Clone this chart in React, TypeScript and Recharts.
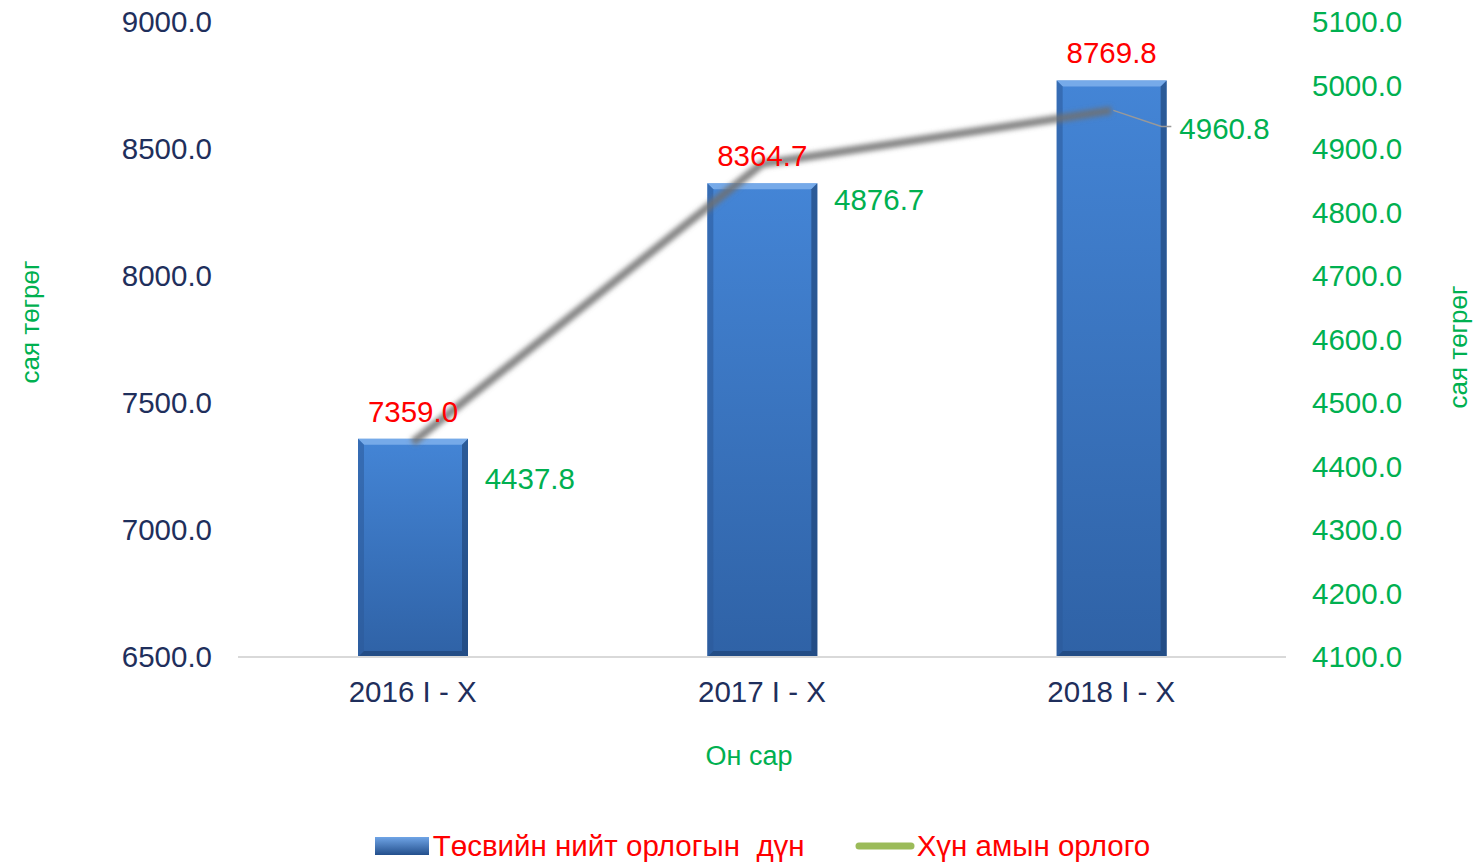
import React from "react";
import { ComposedChart, Bar, Line, XAxis, YAxis, Legend, LabelList } from "recharts";

const periods = ["2016 I - X", "2017 I - X", "2018 I - X"];
const budgetTotal = [7359.0, 8364.7, 8769.8];
const populationIncome = [4437.8, 4876.7, 4960.8];
const leftTicks = [6500, 7000, 7500, 8000, 8500, 9000];
const rightTicks = [4100, 4200, 4300, 4400, 4500, 4600, 4700, 4800, 4900, 5000, 5100];

const data = periods.map((p, i) => ({ name: p, budget: budgetTotal[i], income: populationIncome[i] }));

const FONT = "'Liberation Sans', Arial, sans-serif";
const NAVY = "#1f2f5c";
const GREEN = "#00b050";
const RED = "#ff0000";
const FS = 29.5;

const BevelBar = (props: any) => {
  const { x, y, width, height } = props;
  if (!height || height <= 0) return null;
  const b = 6;
  return (
    <g>
      <rect x={x} y={y} width={width} height={height} fill="url(#barFill)" />
      <polygon points={`${x},${y} ${x + width},${y} ${x + width - b},${y + b} ${x + b},${y + b}`} fill="#7fb0ec" opacity={0.85} />
      <polygon points={`${x},${y} ${x + b},${y + b} ${x + b},${y + height - b} ${x},${y + height}`} fill="#2b5a99" opacity={0.55} />
      <polygon points={`${x + width},${y} ${x + width - b},${y + b} ${x + width - b},${y + height - b} ${x + width},${y + height}`} fill="#1d3f70" opacity={0.6} />
      <polygon points={`${x},${y + height} ${x + b},${y + height - b} ${x + width - b},${y + height - b} ${x + width},${y + height}`} fill="#1d3f70" opacity={0.6} />
    </g>
  );
};

const IncomeLabel = (props: any) => {
  const { x, y, value, index } = props;
  const last = index === populationIncome.length - 1;
  if (last) {
    return (
      <g>
        <polyline points={`${x + 2},${y} ${x + 50},${y + 16} ${x + 60},${y + 16}`} fill="none" stroke="#999" strokeWidth={1.5} />
        <text x={x + 68} y={y + 18} fill={GREEN} fontSize={FS} fontFamily={FONT} dominantBaseline="central">
          {value.toFixed(1)}
        </text>
      </g>
    );
  }
  return (
    <text x={x + 72} y={y + 36} fill={GREEN} fontSize={FS} fontFamily={FONT} dominantBaseline="central">
      {value.toFixed(1)}
    </text>
  );
};

const SideTitle = ({ cx, cy }: { cx: number; cy: number }) => (
  <text x={cx} y={cy} transform={`rotate(-90 ${cx} ${cy})`} textAnchor="middle" dominantBaseline="central" fill={GREEN} fontSize={26} fontFamily={FONT}>
    сая төгрөг
  </text>
);

const renderLegend = () => (
  <div style={{ display: "flex", justifyContent: "center", alignItems: "center", fontFamily: FONT, fontSize: 29.5, color: RED, paddingLeft: 48, paddingTop: 2 }}>
    <svg width={54} height={18} style={{ marginRight: 4 }}>
      <defs>
        <linearGradient id="legBar" x1="0" y1="0" x2="0" y2="1">
          <stop offset="0" stopColor="#6fa4e6" />
          <stop offset="1" stopColor="#234f8c" />
        </linearGradient>
      </defs>
      <rect x={0} y={0} width={54} height={18} fill="url(#legBar)" />
    </svg>
    <span style={{ whiteSpace: "pre" }}>Төсвийн нийт орлогын  дүн</span>
    <svg width={60} height={12} style={{ marginLeft: 50, marginRight: 2 }}>
      <line x1={4} y1={6} x2={56} y2={6} stroke="#9bbb59" strokeWidth={7} strokeLinecap="round" />
    </svg>
    <span>Хүн амын орлого</span>
  </div>
);

export default function App() {
  return (
    <div style={{ position: "absolute", left: 0, top: 0, background: "#fff" }}>
      <ComposedChart width={1477} height={867} data={data} margin={{ top: 22, right: 0, bottom: 0, left: 0 }}>
        <defs>
          <linearGradient id="barFill" x1="0" y1="0" x2="0" y2="1">
            <stop offset="0" stopColor="#4485d6" />
            <stop offset="1" stopColor="#2f62a6" />
          </linearGradient>
          <filter id="blurLine" x="-10%" y="-50%" width="120%" height="200%">
            <feGaussianBlur stdDeviation="2.6" />
          </filter>
        </defs>
        <XAxis
          dataKey="name"
          height={170}
          tickSize={0}
          tickMargin={24}
          tick={{ fill: NAVY, fontSize: FS, fontFamily: FONT }}
          axisLine={{ stroke: "#d9d9d9", strokeWidth: 2 }}
          label={{ value: "Он сар", position: "insideBottom", offset: 62, dx: -13, fill: GREEN, fontSize: 27, fontFamily: FONT }}
        />
        <YAxis
          yAxisId="left"
          width={238}
          domain={[6500, 9000]}
          ticks={leftTicks}
          tickFormatter={(v: number) => v.toFixed(1)}
          tickSize={0}
          tickMargin={26}
          axisLine={false}
          tick={{ fill: NAVY, fontSize: FS, fontFamily: FONT }}
          label={() => <SideTitle cx={30} cy={322} />}
        />
        <YAxis
          yAxisId="right"
          orientation="right"
          width={191}
          domain={[4100, 5100]}
          ticks={rightTicks}
          tickFormatter={(v: number) => v.toFixed(1)}
          tickSize={0}
          tickMargin={26}
          axisLine={false}
          tick={{ fill: GREEN, fontSize: FS, fontFamily: FONT, textAnchor: "start" }}
          label={() => <SideTitle cx={1458} cy={347} />}
        />
        <Legend verticalAlign="bottom" height={40} content={renderLegend} />
        <Bar yAxisId="left" dataKey="budget" name="Төсвийн нийт орлогын  дүн" barSize={110} shape={<BevelBar />} isAnimationActive={false}>
          <LabelList dataKey="budget" position="top" offset={17} fill={RED} fontSize={FS} fontFamily={FONT} formatter={(v: any) => Number(v).toFixed(1)} />
        </Bar>
        <Line
          yAxisId="right"
          dataKey="income"
          name="Хүн амын орлого"
          stroke="#707070"
          strokeOpacity={0.85}
          strokeWidth={8}
          dot={false}
          filter="url(#blurLine)"
          isAnimationActive={false}
        />
        <Line yAxisId="right" dataKey="income" stroke="none" dot={false} legendType="none" isAnimationActive={false}>
          <LabelList dataKey="income" content={<IncomeLabel />} />
        </Line>
      </ComposedChart>
    </div>
  );
}
